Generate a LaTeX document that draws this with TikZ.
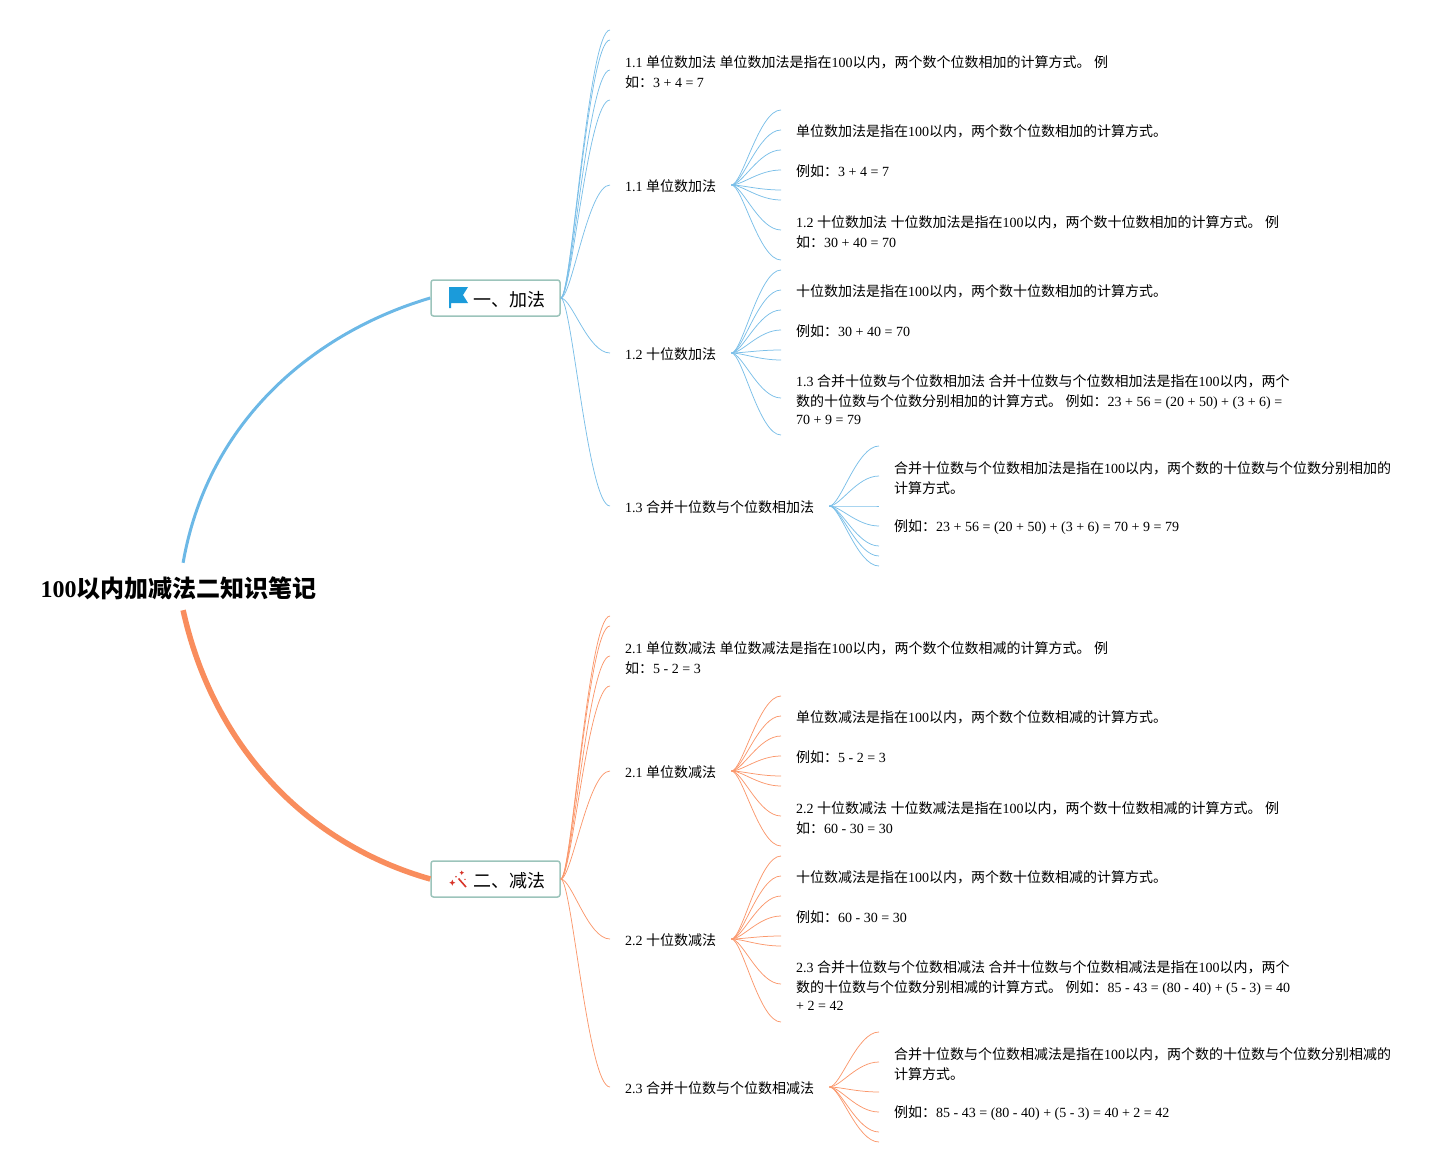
\documentclass[tikz,border=0pt]{standalone}
\usepackage{fontspec}
\setmainfont{Noto Sans CJK SC}
\newfontfamily\latfont{Liberation Serif}
\newcommand{\lat}[1]{{\latfont #1}}
\newcommand{\topstrut}{\rule{0pt}{15.5pt}}
\definecolor{addblue}{HTML}{6CB8E6}
\definecolor{suborange}{HTML}{F98D5D}
\definecolor{boxteal}{HTML}{9CC4BB}
\definecolor{flagblue}{HTML}{1B9BDA}
\definecolor{wandred}{HTML}{D8352A}
\tikzset{
  twig/.style={to path={.. controls +(11,0) and +(-22,0) .. (\tikztotarget)}},
  leaf/.style={anchor=west,inner xsep=15pt,inner ysep=0pt,align=left,font=\fontsize{14}{20}\selectfont,execute at begin node={\rule{0pt}{14.5pt}}},
  topic/.style={draw=boxteal,line width=1.5pt,fill=white,rounded corners=2.5pt,minimum width=129pt,minimum height=36pt,inner sep=0pt,font=\fontsize{18}{20}\selectfont,execute at begin node={\rule{0pt}{19pt}}},
}
\def\drawadd{\draw[color=addblue!90, line width=0.75pt, twig]}
\def\drawsub{\draw[color=suborange!90, line width=0.75pt, twig]}
\def\leafnode{\node[leaf]}
\def\topicnode{\node[topic]}

\begin{document}
\begin{tikzpicture}[x=1pt,y=-1pt]
\useasboundingbox (0,0) rectangle (1454,1172);
\node[inner sep=0pt,minimum height=47pt,font=\fontsize{24}{28}\selectfont\bfseries] (root) at (178.5,586.5) {\rule{0pt}{25pt}\lat{100}以内加减法二知识笔记};
\topicnode (add) at (495.5,298) {\hspace*{27pt}一、加法};
\topicnode (sub) at (495.5,879) {\hspace*{27pt}二、减法};
\draw[color=addblue, line width=3pt] (root.79) .. controls (208,420) and (315,332) .. (add.west);
\draw[color=suborange, line width=5.5pt] (root.-79) .. controls (214,750) and (310,845) .. (sub.west);
% flag
\fill[color=flagblue] (449,287) -- (468,287) -- (463,295) -- (468,303) -- (451,303) -- (451,308) -- (449,308) -- cycle;
% wand
\draw[color=wandred, line width=1.6pt] (458.5,878.5) -- (466,887);
\fill[color=wandred] (461.7,870.5) -- (462.5,872) -- (464,872.7) -- (462.5,873.4) -- (461.7,875) -- (461,873.4) -- (459.5,872.7) -- (461,872) -- cycle;
\fill[color=wandred] (452.3,879.7) -- (453.2,881.8) -- (455.3,882.7) -- (453.2,883.6) -- (452.3,885.7) -- (451.4,883.6) -- (449.3,882.7) -- (451.4,881.8) -- cycle;
\fill[color=wandred] (465,879.3) circle (0.8);
\fill[color=wandred] (456,876.7) circle (0.8);

% first branch
\leafnode (t11) at (610,70) {\topstrut\lat{1.1 }单位数加法\lat{ }单位数加法是指在\lat{100}以内，两个数个位数相加的计算方式。\lat{ }例\\如：\lat{3 + 4 = 7}};
\leafnode (l11) at (610,185) {\lat{1.1 }单位数加法};
\leafnode (l12) at (610,353) {\lat{1.2 }十位数加法};
\leafnode (l13) at (610,506) {\lat{1.3 }合并十位数与个位数相加法};
\foreach \y in {30,40,100} {
  \coordinate (a\y) at (610,\y);
  \drawadd (add.east) to (a\y);
}
\drawadd (add.east) to (t11.west);
\drawadd (add.east) to (l11.west);
\drawadd (add.east) to (l12.west);
\drawadd (add.east) to (l13.west);

\leafnode (t111) at (781,130) {单位数加法是指在\lat{100}以内，两个数个位数相加的计算方式。};
\leafnode (t112) at (781,170) {例如：\lat{3 + 4 = 7}};
\leafnode (t113) at (781,230) {\topstrut\lat{1.2 }十位数加法\lat{ }十位数加法是指在\lat{100}以内，两个数十位数相加的计算方式。\lat{ }例\\如：\lat{30 + 40 = 70}};
\foreach \y in {110,150,190,200,260} {
  \coordinate (b\y) at (781,\y);
  \drawadd (l11.east) to (b\y);
}
\drawadd (l11.east) to (t111.west);
\drawadd (l11.east) to (t112.west);
\drawadd (l11.east) to (t113.west);

\leafnode (t121) at (781,290) {十位数加法是指在\lat{100}以内，两个数十位数相加的计算方式。};
\leafnode (t122) at (781,330) {例如：\lat{30 + 40 = 70}};
\leafnode (t123) at (781,398) {\topstrut\lat{1.3 }合并十位数与个位数相加法\lat{ }合并十位数与个位数相加法是指在\lat{100}以内，两个\\数的十位数与个位数分别相加的计算方式。\lat{ }例如：\lat{23 + 56 = (20 + 50) + (3 + 6) =}\\[-2pt]\lat{70 + 9 = 79}};
\foreach \y in {270,310,350,360,435} {
  \coordinate (b\y) at (781,\y);
  \drawadd (l12.east) to (b\y);
}
\drawadd (l12.east) to (t121.west);
\drawadd (l12.east) to (t122.west);
\drawadd (l12.east) to (t123.west);

\leafnode (t131) at (879,476) {\topstrut 合并十位数与个位数相加法是指在\lat{100}以内，两个数的十位数与个位数分别相加的\\计算方式。};
\leafnode (t132) at (879,526) {例如：\lat{23 + 56 = (20 + 50) + (3 + 6) = 70 + 9 = 79}};
\foreach \y in {446,506,546,556,566} {
  \coordinate (c\y) at (879,\y);
  \drawadd (l13.east) to (c\y);
}
\drawadd (l13.east) to (t131.west);
\drawadd (l13.east) to (t132.west);

% second branch
\leafnode (t21) at (610,656) {\topstrut\lat{2.1 }单位数减法\lat{ }单位数减法是指在\lat{100}以内，两个数个位数相减的计算方式。\lat{ }例\\如：\lat{5 - 2 = 3}};
\leafnode (l21) at (610,771) {\lat{2.1 }单位数减法};
\leafnode (l22) at (610,939) {\lat{2.2 }十位数减法};
\leafnode (l23) at (610,1087) {\lat{2.3 }合并十位数与个位数相减法};
\foreach \y in {616,626,686} {
  \coordinate (d\y) at (610,\y);
  \drawsub (sub.east) to (d\y);
}
\drawsub (sub.east) to (t21.west);
\drawsub (sub.east) to (l21.west);
\drawsub (sub.east) to (l22.west);
\drawsub (sub.east) to (l23.west);

\leafnode (t211) at (781,716) {单位数减法是指在\lat{100}以内，两个数个位数相减的计算方式。};
\leafnode (t212) at (781,756) {例如：\lat{5 - 2 = 3}};
\leafnode (t213) at (781,816) {\topstrut\lat{2.2 }十位数减法\lat{ }十位数减法是指在\lat{100}以内，两个数十位数相减的计算方式。\lat{ }例\\如：\lat{60 - 30 = 30}};
\foreach \y in {696,736,776,786,846} {
  \coordinate (e\y) at (781,\y);
  \drawsub (l21.east) to (e\y);
}
\drawsub (l21.east) to (t211.west);
\drawsub (l21.east) to (t212.west);
\drawsub (l21.east) to (t213.west);

\leafnode (t221) at (781,876) {十位数减法是指在\lat{100}以内，两个数十位数相减的计算方式。};
\leafnode (t222) at (781,916) {例如：\lat{60 - 30 = 30}};
\leafnode (t223) at (781,984) {\topstrut\lat{2.3 }合并十位数与个位数相减法\lat{ }合并十位数与个位数相减法是指在\lat{100}以内，两个\\数的十位数与个位数分别相减的计算方式。\lat{ }例如：\lat{85 - 43 = (80 - 40) + (5 - 3) = 40}\\[-2pt]\lat{+ 2 = 42}};
\foreach \y in {856,896,936,946,1022} {
  \coordinate (e\y) at (781,\y);
  \drawsub (l22.east) to (e\y);
}
\drawsub (l22.east) to (t221.west);
\drawsub (l22.east) to (t222.west);
\drawsub (l22.east) to (t223.west);

\leafnode (t231) at (879,1062) {\topstrut 合并十位数与个位数相减法是指在\lat{100}以内，两个数的十位数与个位数分别相减的\\计算方式。};
\leafnode (t232) at (879,1112) {例如：\lat{85 - 43 = (80 - 40) + (5 - 3) = 40 + 2 = 42}};
\foreach \y in {1032,1092,1132,1142} {
  \coordinate (f\y) at (879,\y);
  \drawsub (l23.east) to (f\y);
}
\drawsub (l23.east) to (t231.west);
\drawsub (l23.east) to (t232.west);
\end{tikzpicture}
\end{document}
